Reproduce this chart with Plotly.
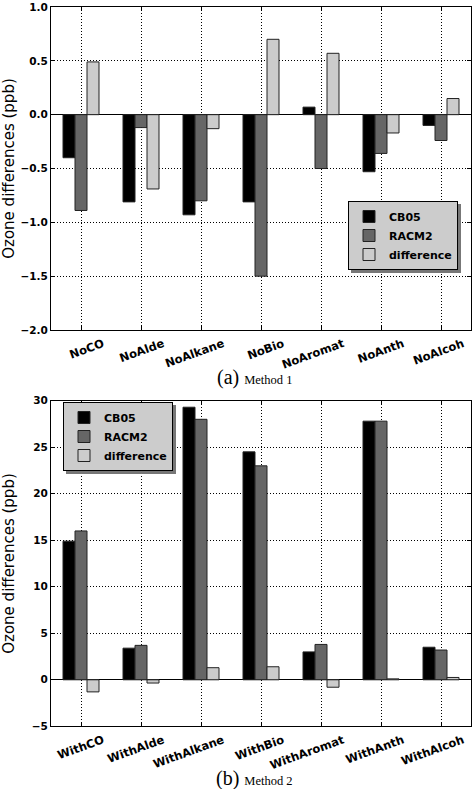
import plotly.graph_objects as go
from plotly.subplots import make_subplots

cats1 = ["NoCO", "NoAlde", "NoAlkane", "NoBio", "NoAromat", "NoAnth", "NoAlcoh"]
cb05_1 = [-0.40, -0.81, -0.93, -0.81, 0.07, -0.53, -0.10]
racm2_1 = [-0.89, -0.12, -0.80, -1.50, -0.50, -0.36, -0.24]
diff_1 = [0.49, -0.69, -0.13, 0.70, 0.57, -0.17, 0.15]

cats2 = ["WithCO", "WithAlde", "WithAlkane", "WithBio", "WithAromat", "WithAnth", "WithAlcoh"]
cb05_2 = [14.9, 3.4, 29.3, 24.5, 3.0, 27.8, 3.5]
racm2_2 = [16.0, 3.7, 28.0, 23.0, 3.8, 27.8, 3.2]
diff_2 = [-1.3, -0.35, 1.3, 1.4, -0.8, 0.1, 0.25]

series_names = ["CB05", "RACM2", "difference"]
colors = ["#000000", "#666666", "#cccccc"]

W, H = 473, 789
fig = make_subplots(rows=2, cols=1)

for row, cats, vals, leg in [(1, cats1, [cb05_1, racm2_1, diff_1], "legend"),
                             (2, cats2, [cb05_2, racm2_2, diff_2], "legend2")]:
    for name, col, v in zip(series_names, colors, vals):
        fig.add_trace(go.Bar(x=cats, y=v, name=name, legend=leg,
                             marker=dict(color=col, line=dict(color="#222222", width=1))),
                      row=row, col=1)

tickfont = dict(family="DejaVu Sans", size=10.5, color="black", weight="bold")
axcommon = dict(showline=True, linecolor="black", linewidth=1, mirror="allticks",
                ticks="inside", ticklen=4, tickcolor="black", automargin=False,
                ticklabeloverflow="allow",
                showgrid=True, gridcolor="black", griddash="1px,2px", gridwidth=1)

x0, x1 = 51 / W, 471 / W
fig.update_xaxes(**axcommon, tickangle=-20, range=[-0.5, 6.5], domain=[x0, x1], zeroline=False,
                 tickfont=dict(family="DejaVu Sans", size=11.5, color="black", weight="bold"),
                 ticklabelshift=22, ticklabelstandoff=2)
fig.update_yaxes(**axcommon, tickfont=tickfont,
                 zeroline=True, zerolinecolor="black", zerolinewidth=1,
                 title=dict(text="Ozone differences (ppb)",
                            font=dict(family="DejaVu Sans", size=15, color="black")))
fig.update_yaxes(range=[-2.0, 1.0], dtick=0.5, tickformat=".1f",
                 domain=[1 - 330 / H, 1 - 7 / H], row=1, col=1)
fig.update_yaxes(range=[-5, 30], dtick=5, domain=[1 - 726.3 / H, 1 - 400.7 / H], row=2, col=1)

legfont = dict(family="DejaVu Sans", size=11, color="black", weight="bold")


def shadow(x0p, y0p, x1p, y1p):
    return dict(type="rect", xref="paper", yref="paper", layer="above",
                x0=x0p / W, x1=x1p / W, y0=1 - y0p / H, y1=1 - y1p / H,
                fillcolor="#777777", line=dict(width=0))


capfont = dict(family="Liberation Serif", size=20, color="black")
fig.update_layout(
    template="none",
    width=W, height=H, margin=dict(l=0, r=0, t=0, b=0, autoexpand=False),
    plot_bgcolor="white", paper_bgcolor="white",
    barmode="group", bargap=0.4, bargroupgap=0,
    legend=dict(x=458 / W, y=1 - 201 / H, xanchor="right", yanchor="top",
                bgcolor="#cccccc", bordercolor="black", borderwidth=1, font=legfont),
    legend2=dict(x=63 / W, y=1 - 402 / H, xanchor="left", yanchor="top",
                 bgcolor="#cccccc", bordercolor="black", borderwidth=1, font=legfont),
    shapes=[shadow(351, 204, 461, 273), shadow(66, 405, 176, 474)],
    annotations=[
        dict(text="(a) <span style='font-size:12.5px'>Method 1</span>", xref="paper", yref="paper",
             x=254 / W, y=1 - 377 / H, showarrow=False, xanchor="center", yanchor="middle",
             font=capfont),
        dict(text="(b) <span style='font-size:12.5px'>Method 2</span>", xref="paper", yref="paper",
             x=254 / W, y=1 - 778 / H, showarrow=False, xanchor="center", yanchor="middle",
             font=capfont),
    ],
)

fig.write_html("out.html", config={"displayModeBar": False},
               post_script="document.body.style.margin='0';document.body.style.padding='0';")
